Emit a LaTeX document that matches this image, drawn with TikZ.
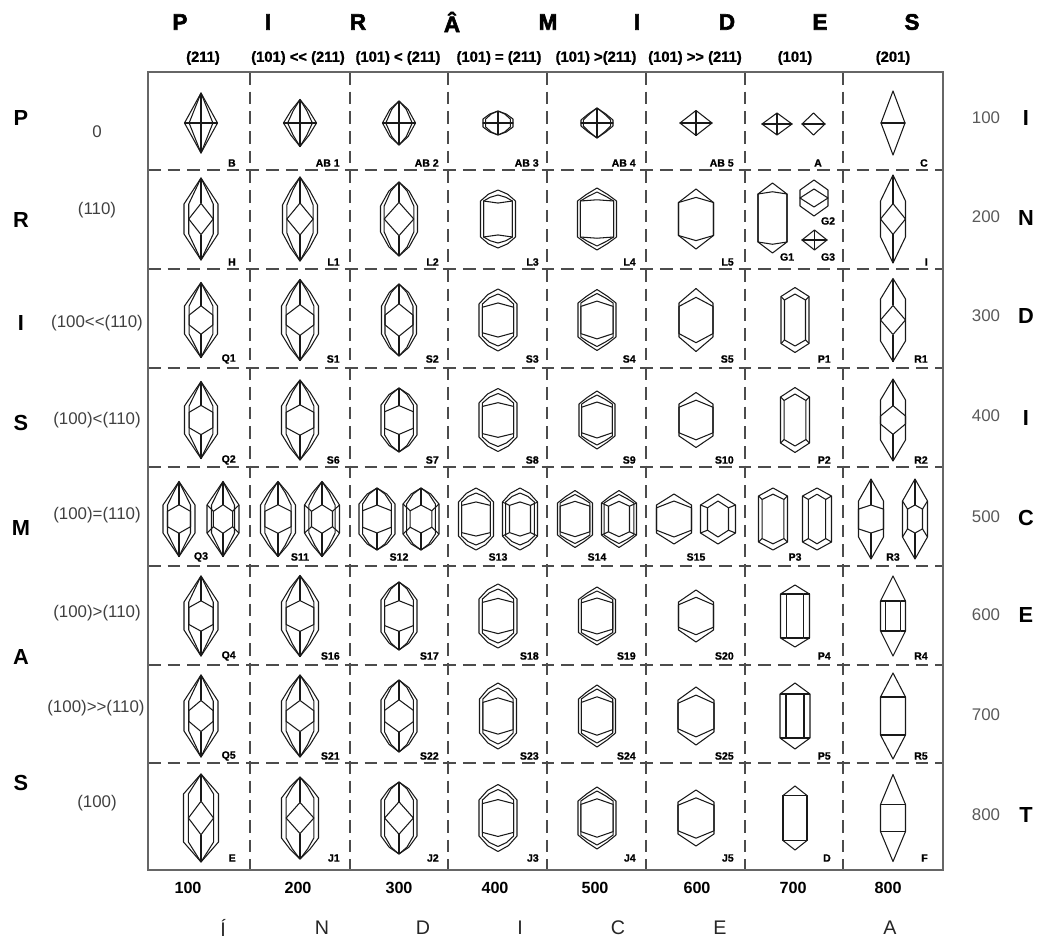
\documentclass[tikz,border=0pt]{standalone}
\usepackage{fontspec}
\setmainfont{Liberation Sans}
\newfontfamily\heavyfont[FakeBold=1]{Liberation Sans Bold}
\newfontfamily\blackfont[FakeBold=2.5]{Liberation Sans Bold}
\usetikzlibrary{positioning}

% one zircon crystal, seen from the front
\tikzset{
  zw/.store in=\zw, zA/.store in=\zA, zp/.store in=\zp, zb/.store in=\zb,
  zk/.store in=\zk, zv/.store in=\zv, zd/.store in=\zd, zq/.store in=\zq,
  zaxis/.store in=\zaxis, zc/.store in=\zc, zg/.store in=\zg,
  zw=15, zA=30, zp=10, zb=.45, zk=.75, zv=.75, zd=.4, zq=0, zaxis=1, zc=0, zg=0,
  col1/.style={zb=.45, zk=.72, zv=.72, zd=.38, zaxis=1, zc=0, zg=0},
  col2/.style={zb=.52, zk=.75, zv=.75, zd=.38, zaxis=1, zc=0, zg=0},
  col3/.style={zb=.62, zk=.8, zv=.8, zd=.45, zaxis=1, zc=0, zg=0},
  col4/.style={zb=.62, zk=.82, zv=.82, zd=.55, zaxis=0, zc=0, zg=5},
  col5/.style={zb=.5, zk=.85, zv=.85, zd=.62, zaxis=0, zc=0, zg=4},
  col6/.style={zb=.45, zk=1, zv=1, zd=.72, zaxis=0, zc=0, zg=0},
  col7/.style={zb=.45, zk=1, zv=.75, zd=.8, zaxis=0, zc=1, zg=0},
  col8/.style={zb=.45, zk=1, zv=1, zd=.35, zaxis=1, zc=0, zg=0},
  bipyr/.style={zv=1, zd=0, zq=0, zaxis=1, zg=0},
  bipyrh/.style={zv=1, zd=0, zq=0, zaxis=0, zg=0},
  prism/.style={zv=.6, zd=-1, zq=1, zc=1, zaxis=0},
  flat/.style={zv=1, zd=-1, zq=1, zc=0, zaxis=0},
  plain/.style={},
  pics/zircon/.style={code={
    \pgfmathsetmacro\mx{.55*\zw}
    \pgfmathsetmacro\my{\zp+(\zA-\zp)*\zb}
    \pgfmathsetmacro\iw{\zk*\zw}
    \pgfmathsetmacro\imx{\zk*\mx}
    \pgfmathsetmacro\iA{\zA-\zg}
    \pgfmathsetmacro\imy{\zp+(\iA-\zp)*\zb}
    \pgfmathsetmacro\fv{\zv*\zw}
    \pgfmathsetmacro\fd{\zd<0 ? \zp : \zd*\zA}
    \pgfmathsetmacro\fq{\zq*\zp}
    \draw[crys] (0,\zA) -- (\mx,\my) -- (\zw,\zp) -- (\zw,-\zp) -- (\mx,-\my) -- (0,-\zA)
      -- (-\mx,-\my) -- (-\zw,-\zp) -- (-\zw,\zp) -- (-\mx,\my) -- cycle;
    \ifdim\zk pt<.99pt
      \draw[crys] (0,\iA) -- (\imx,\imy) -- (\iw,\zp) -- (\iw,-\zp) -- (\imx,-\imy) -- (0,-\iA)
        -- (-\imx,-\imy) -- (-\iw,-\zp) -- (-\iw,\zp) -- (-\imx,\imy) -- cycle;
    \fi
    \draw[crys] (0,\fd) -- (\fv,\fq) -- (\fv,-\fq) -- (0,-\fd) -- (-\fv,-\fq) -- (-\fv,\fq) -- cycle;
    \ifnum\zaxis=1 \draw[crys] (0,\fd) -- (0,\zA) (0,-\fd) -- (0,-\zA); \fi
    \ifnum\zc=1 \draw[crys] (\fv,\fq) -- (\zw,\zp) (\fv,-\fq) -- (\zw,-\zp)
      (-\fv,\fq) -- (-\zw,\zp) (-\fv,-\fq) -- (-\zw,-\zp); \fi
  }},
}

\def\colx{{201,300,399,498,597,696,795,893}}
\def\rowy{{123,219,320,420,519,616,716,818}}
\def\labx{{236,340,439,539,636,734,831,928}}
\def\laby{{163,262,359,460,557,656,756,858}}

\begin{document}
\begin{tikzpicture}[x=0.025cm, y=-0.025cm,
    crys/.style={line width=0.75pt, draw=black!90, line join=round},
    cellline/.style={draw=black!70, line width=1pt, dash pattern=on 9pt off 5pt},
    outerbox/.style={draw=black!60, line width=1.2pt},
    toplet/.style={font=\blackfont\fontsize{16}{16}\selectfont},
    pyrlab/.style={font=\heavyfont\fontsize{10.5}{10.5}\selectfont},
    sidelet/.style={font=\bfseries\fontsize{15.5}{15.5}\selectfont},
    prislab/.style={font=\fontsize{12}{12}\selectfont, text=black!75},
    indnum/.style={font=\fontsize{12}{12}\selectfont, text=black!65},
    botnum/.style={font=\bfseries\fontsize{11.5}{11.5}\selectfont},
    botlet/.style={font=\fontsize{14}{14}\selectfont, text=black!85},
    lab/.style={font=\heavyfont\fontsize{7.5}{7.5}\selectfont, inner sep=0pt}
  ]
  \useasboundingbox (0,0) rectangle (1039,941);

  % grid
  \foreach \gx in {250,350,448,547,646,745,843}
    \draw[cellline] (\gx,72) -- (\gx,870);
  \foreach \gy in {170,269,368,467,566,665,763}
    \draw[cellline] (148,\gy) -- (943,\gy);
  \draw[outerbox] (148,72) rectangle (943,870);

  % pyramids on top
  \foreach \x/\t [count=\i] in {180/P,268/I,358/R,452/Â,548/M,637/I,727/D,820/E,912/S}
    \node[toplet] (pir\i) at (\x,22) {\t};
  \node[pyrlab] (pyr1) at (203,58) {(211)};
  \node[pyrlab] (pyr2) at (298,58) {(101) <{}< (211)};
  \node[pyrlab] (pyr3) at (398,58) {(101) < (211)};
  \node[pyrlab] (pyr4) at (499,58) {(101) = (211)};
  \node[pyrlab] (pyr5) at (596,58) {(101) >(211)};
  \node[pyrlab] (pyr6) at (695,58) {(101) >{}> (211)};
  \node[pyrlab] (pyr7) at (795,58) {(101)};
  \node[pyrlab] (pyr8) at (893,58) {(201)};

  % prisms on the left
  \foreach \y/\t [count=\i] in {118/P,220/R,323/I,423/S,528/M,657/A,783/S}
    \node[sidelet] (pri\i) at (21,\y) {\t};
  \node[prislab] (prs1) at (97,132) {0};
  \node[prislab] (prs2) at (97,210) {(110)};
  \node[prislab] (prs3) at (97,323) {(100<{}<(110)};
  \node[prislab] (prs4) at (97,420) {(100)<(110)};
  \node[prislab] (prs5) at (97,515) {(100)=(110)};
  \node[prislab] (prs6) at (97,613) {(100)>(110)};
  \node[prislab] (prs7) at (96,708) {(100)>{}>(110)};
  \node[prislab] (prs8) at (97,803) {(100)};

  % index on the right and below
  \foreach \y [count=\i] in {118,217,316,416,517,615,715,815}
    \node[indnum] (it\i) at (986,\y) {\i00};
  \foreach \y/\t [count=\i] in {118/I,218/N,316/D,418/I,518/C,615/E,815/T}
    \node[sidelet] (il\i) at (1026,\y) {\t};
  \foreach \x [count=\i] in {188,298,399,495,595,697,793,888}
    \node[botnum] (ia\i) at (\x,888) {\i00};
  \foreach \x/\t [count=\i] in {223/Í,322/N,423/D,520/I,618/C,720/E,890/A}
    \node[botlet, inner sep=1pt] (ib\i) at (\x,928) {\t};

  % crystals, one per cell
  \foreach \r/\c/\w/\A/\p/\q/\s/\lab in {
      1/1/16.5/30/0/0/bipyr/B, 1/2/16.5/23.5/0/0/bipyr/AB 1, 1/3/16.5/22/0/0/bipyr/AB 2,
      1/4/15/12/4/0/bipyr/AB 3, 1/5/16/15/3/0/bipyr/AB 4, 1/6/16/12.5/0/0/bipyr/AB 5,
      1/8/12/32/0/0/bipyrh/C,
      2/1/17/41/15/0/plain/H, 2/2/17.5/42/14/0/plain/L1, 2/3/18.5/37/13/0/plain/L2,
      2/4/17.5/29/18/1/plain/L3, 2/5/19.5/31/18/1/plain/L4, 2/6/17.5/30/16.5/1/plain/L5,
      2/8/12.5/44/18/0/plain/I,
      3/1/16.5/37.5/14/.35/plain/Q1, 3/2/18.5/40.5/14/.35/plain/S1, 3/3/17.5/36/14/.35/plain/S2,
      3/4/19/31/16/.8/plain/S3, 3/5/19/30.5/17/.8/plain/S4, 3/6/17/31.5/17/.8/plain/S5,
      3/7/14/32.5/23.5/.85/plain/P1, 3/8/12.5/41.5/21/0/plain/R1,
      4/1/16.5/38.5/14/.55/plain/Q2, 4/2/18.5/40/14/.55/plain/S6, 4/3/18/32/15/.55/plain/S7,
      4/4/19/31.5/17/.8/plain/S8, 4/5/18/29/16/.8/plain/S9, 4/6/17/27.5/16/.8/plain/S10,
      4/7/14.5/32.5/23/.85/plain/P2, 4/8/12.5/41/20/.2/plain/R2,
      6/1/17/40/14/.6/plain/Q4, 6/2/18.5/40.5/14/.6/plain/S16, 6/3/18/34/16/.6/plain/S17,
      6/4/19/32/17/.8/plain/S18, 6/5/18.5/29/16.5/.8/plain/S19, 6/6/17.5/26/14/.8/plain/S20,
      6/7/14.5/31/22/1/prism/P4, 6/8/12.5/40/15/1/prism/R4,
      7/1/17/41/15/.35/plain/Q5, 7/2/18.5/41/15/.35/plain/S21, 7/3/18/36/16/.35/plain/S22,
      7/4/18.5/33/17/.8/plain/S23, 7/5/18.5/31/17/.8/plain/S24, 7/6/18/29/16/.8/plain/S25,
      7/7/15/33/22/1/prism/P5, 7/8/12.5/43/19/1/flat/R5,
      8/1/17.5/44/24/0/plain/E, 8/2/18.5/41/20/0/plain/J1, 8/3/18/36/18/0/plain/J2,
      8/4/19/33.5/18/.8/plain/J3, 8/5/19/31/17/.8/plain/J4, 8/6/18/28/16/.8/plain/J5,
      8/7/12/32/22.5/1/flat/D, 8/8/12.5/43.5/13.5/1/flat/F}{
    \pgfmathsetmacro\cx{\colx[\c-1]}
    \pgfmathsetmacro\cy{\rowy[\r-1]}
    \pgfmathsetmacro\lx{\labx[\c-1]}
    \pgfmathsetmacro\ly{\laby[\r-1]}
    \pic[col\c, \s, zw=\w, zA=\A, zp=\p, zq=\q] (z\r\c) at (\cx,\cy) {zircon};
    \node[lab, anchor=east] (lab\r\c) at (\lx,\ly) {\lab};
  }

  % twinned crystals of the middle row
  \foreach \c/\w/\A/\p/\q/\lab in {
      1/16/37.5/14/.55/Q3, 2/17.5/37.5/14/.55/S11, 3/18/31/15/.55/S12, 4/17.5/31/17/.8/S13,
      5/17.5/28.5/16/.8/S14, 6/17.5/25/14/.8/S15, 7/14.5/31/23/.85/P3, 8/12.5/40/18/.55/R3}{
    \pgfmathsetmacro\cx{\colx[\c-1]}
    \pic[col\c, zw=\w, zA=\A, zp=\p, zq=\q] (z5\c a) at (\cx-22,519) {zircon};
    \pic[col\c, zw=\w, zA=\A, zp=\p, zq=\q, zv=.6, zc=1] (z5\c b) at (\cx+22,519) {zircon};
    \node[lab] (lab5\c) at (\cx,557) {\lab};
  }

  % the (101) cells with more than one crystal
  \pic[bipyr, zk=1, zw=15, zA=11, zp=0] (z17a) at (777,124) {zircon};
  \pic[bipyrh, zk=1, zw=11.5, zA=11, zp=0] (z17b) at (813.5,124) {zircon};
  \node[lab] (lab17) at (818,163) {A};
  \pic[col7, zv=1, zq=1, zd=.75, zc=0, zw=14.5, zA=35, zp=24] (z27a) at (772.5,218) {zircon};
  \pic[col6, zw=14, zA=18, zp=8, zq=0, zd=.5] (z27b) at (814,198) {zircon};
  \pic[bipyr, zk=1, zw=12.5, zA=10, zp=0] (z27c) at (814.5,240) {zircon};
  \node[lab] (lab27a) at (787,257) {G1};
  \node[lab] (lab27b) at (828,221) {G2};
  \node[lab] (lab27c) at (828,257) {G3};
\end{tikzpicture}
\end{document}
